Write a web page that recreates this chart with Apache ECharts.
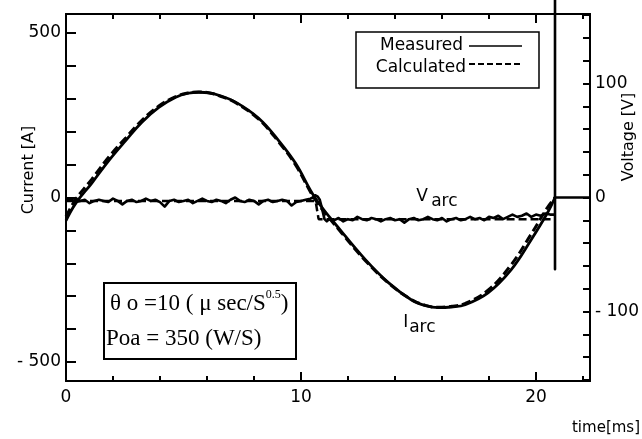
<!DOCTYPE html>
<html>
<head>
<meta charset="utf-8">
<script src="https://cdn.jsdelivr.net/npm/echarts@6/dist/echarts.min.js"></script>
<style>
  html, body { margin: 0; padding: 0; background: #fff; }
  #chart { width: 642px; height: 439px; }
</style>
</head>
<body>
<div id="chart"></div>
<script>
// Arc current [A] over one cycle (time in ms)
const currentTime = [0, 0.42, 1.1, 1.83, 2.55, 3.23, 3.95, 4.67, 5.2, 5.65, 6.1, 6.5, 7.22, 8.2, 9.04, 9.77,
  10.62, 11.72, 12.74, 13.72, 14.69, 15.3, 15.84, 16.4, 16.99, 17.96, 18.94, 19.79, 20.51, 20.81];
const currentMeasured = [-70, -17, 44, 113, 174, 229, 274, 305, 317, 320, 318, 311, 290, 241, 174, 104,
  -3, -103, -189, -259, -311, -329, -335, -333, -326, -290, -220, -129, -44, 0];
const currentCalculated = [-58, -5, 56, 124, 182, 235, 278, 307, 318, 321, 318, 310, 288, 238, 170, 99,
  -8, -107, -192, -260, -310, -328, -334, -331, -322, -282, -205, -112, -28, 0];

// Arc voltage [V], sampled every 0.2 ms
const voltageStep = 0.2;
const voltageFirstHalf = [
  -2, -1, -4, -3, -2, -5, -3, -2, -3, -4,
  -1, -3, -6, -3, -2, -4, -3, -1, -3, -2,
  -4, -8, -3, -2, -4, -3, -2, -5, -3, -1,
  -3, -4, -2, -3, -5, -2, 0, -3, -4, -2,
  -3, -6, -3, -2, -4, -3, -2, -3, -7, -4,
  -3, -2, -1];
const voltageSwitchTime = [10.5, 10.6, 10.7, 10.8, 10.9, 11.0, 11.1];
const voltageSwitch = [0, 2, 1, -2, -10, -19, -21];
const voltageSecondStart = 11.2;
const voltageSecondHalf = [
  -19, -20, -18, -21, -19, -20, -17, -19, -20, -18,
  -19, -21, -19, -18, -20, -19, -22, -19, -18, -20,
  -19, -17, -19, -20, -18, -21, -19, -18, -20, -19,
  -17, -19, -18, -20, -17, -18, -16, -19, -17, -15,
  -17, -16, -14, -17, -15, -16, -14, -15];
// extinction: re-ignition spike and the zero level afterwards
const extinctionTime = 20.81;
const extinctionSpike = [-15, 175, -63, 0];
const endTime = 22.3;

// Calculated voltage levels
const calcVoltageTime = [0, 10.62, 10.75, 20.81];
const calcVoltage = [-3, -3, -19, -19];

// Axis ticks and labels
const timeMinorTicks = [2, 4, 6, 8, 12, 14, 16, 18, 22];
const timeMajorTicks = [0, 10, 20];
const currentTicks = [-500, -400, -300, -200, -100, 0, 100, 200, 300, 400, 500];
const currentLabels = [-500, 0, 500];
const voltageTicks = [-160, -140, -120, -100, -80, -60, -40, -20, 0, 20, 40, 60, 80, 100, 120, 140, 160];
const voltageLabels = [-100, 0, 100];

const INK = '#000';
const SANS = 'DejaVu Sans';
const SERIF = 'Liberation Serif';

const pairs = (xs, ys) => xs.map((x, i) => [x, ys[i]]);
const signed = v => (v < 0 ? '- ' + Math.abs(v) : String(v));

const voltageMeasured = [];
voltageFirstHalf.forEach((v, i) => voltageMeasured.push([+(i * voltageStep).toFixed(2), v]));
voltageSwitchTime.forEach((t, i) => voltageMeasured.push([t, voltageSwitch[i]]));
voltageSecondHalf.forEach((v, i) => voltageMeasured.push([+(voltageSecondStart + i * voltageStep).toFixed(2), v]));
extinctionSpike.forEach(v => voltageMeasured.push([extinctionTime, v]));
voltageMeasured.push([endTime, 0]);

const chart = echarts.init(document.getElementById('chart'), null, { renderer: 'canvas' });

const xBase = {
  type: 'value', min: 0, max: endTime,
  splitLine: { show: false },
  axisLine: { show: true, onZero: false, lineStyle: { color: INK, width: 2 } }
};

chart.setOption({
  animation: false,
  backgroundColor: '#fff',
  grid: { left: 66, right: 48, top: 14, bottom: 58 },
  xAxis: [
    Object.assign({}, xBase, {
      position: 'bottom',
      axisTick: { inside: true, length: 5, customValues: timeMinorTicks, lineStyle: { color: INK, width: 2 } },
      axisLabel: { show: false }
    }),
    Object.assign({}, xBase, {
      position: 'bottom',
      axisTick: { inside: true, length: 9, customValues: timeMajorTicks, lineStyle: { color: INK, width: 2 } },
      axisLabel: { customValues: timeMajorTicks, color: INK, fontFamily: SANS, fontSize: 17, margin: 8 }
    }),
    Object.assign({}, xBase, {
      position: 'top',
      axisTick: { inside: true, length: 5, customValues: timeMinorTicks, lineStyle: { color: INK, width: 2 } },
      axisLabel: { show: false }
    }),
    Object.assign({}, xBase, {
      position: 'top',
      axisTick: { inside: true, length: 9, customValues: [10, 20], lineStyle: { color: INK, width: 2 } },
      axisLabel: { show: false }
    })
  ],
  yAxis: [
    {
      type: 'value', min: -558, max: 558, position: 'left',
      splitLine: { show: false },
      axisLine: { show: true, onZero: false, lineStyle: { color: INK, width: 2 } },
      axisTick: { inside: true, length: 10, customValues: currentTicks, lineStyle: { color: INK, width: 2 } },
      axisLabel: { customValues: currentLabels, formatter: signed, color: INK, fontFamily: SANS, fontSize: 17, margin: 5 }
    },
    {
      type: 'value', min: -161, max: 161, position: 'right',
      splitLine: { show: false },
      axisLine: { show: true, onZero: false, lineStyle: { color: INK, width: 2 } },
      axisTick: { inside: true, length: 7, customValues: voltageTicks, lineStyle: { color: INK, width: 2 } },
      axisLabel: { customValues: voltageLabels, formatter: signed, color: INK, fontFamily: SANS, fontSize: 17, margin: 5 }
    }
  ],
  series: [
    {
      name: 'Calculated', type: 'line', xAxisIndex: 0, yAxisIndex: 1,
      data: pairs(calcVoltageTime, calcVoltage),
      showSymbol: false, symbol: 'none',
      lineStyle: { color: INK, width: 2.5, type: [8, 4] }
    },
    {
      name: 'Calculated', type: 'line', xAxisIndex: 0, yAxisIndex: 0,
      data: pairs(currentTime, currentCalculated),
      showSymbol: false, symbol: 'none', smooth: 0.4,
      lineStyle: { color: INK, width: 3, type: [9, 4] }
    },
    {
      name: 'Measured', type: 'line', xAxisIndex: 0, yAxisIndex: 0,
      data: pairs(currentTime, currentMeasured),
      showSymbol: false, symbol: 'none', smooth: 0.4,
      lineStyle: { color: INK, width: 2.8 }
    },
    {
      name: 'Measured', type: 'line', xAxisIndex: 0, yAxisIndex: 1,
      data: voltageMeasured, clip: false,
      showSymbol: false, symbol: 'none',
      lineStyle: { color: INK, width: 2.6, join: 'round' }
    }
  ]
});

// Labels placed at data positions
const atCurrent = (t, a) => chart.convertToPixel({ xAxisIndex: 0, yAxisIndex: 0 }, [t, a]);
const atVoltage = (t, v) => chart.convertToPixel({ xAxisIndex: 0, yAxisIndex: 1 }, [t, v]);
const vPos = atVoltage(14.9, 1);
const iPos = atCurrent(14.35, -381);

const textStyle = (extra) => Object.assign({ fill: INK, fontFamily: SANS }, extra);

chart.setOption({
  graphic: [
    // series legend
    { type: 'rect', shape: { x: 356, y: 32, width: 183, height: 56 }, style: { fill: '#fff', stroke: INK, lineWidth: 1.5 } },
    { type: 'text', x: 463, y: 46, style: textStyle({ text: 'Measured', fontSize: 17, align: 'right', verticalAlign: 'middle' }) },
    { type: 'text', x: 466, y: 68, style: textStyle({ text: 'Calculated', fontSize: 17, align: 'right', verticalAlign: 'middle' }) },
    { type: 'line', shape: { x1: 469, y1: 46, x2: 522, y2: 46 }, style: { stroke: INK, lineWidth: 1.5 } },
    { type: 'line', shape: { x1: 469, y1: 64, x2: 522, y2: 64 }, style: { stroke: INK, lineWidth: 2, lineDash: [6, 3] } },

    // parameter box
    { type: 'rect', shape: { x: 104, y: 283, width: 192, height: 76 }, style: { fill: '#fff', stroke: INK, lineWidth: 2 } },
    {
      type: 'text', x: 110, y: 302,
      style: {
        text: '{m|θ o =10 ( μ sec/S}{s|0.5}{m|)}',
        verticalAlign: 'middle',
        rich: {
          m: { fontFamily: SERIF, fontSize: 23, fill: INK, lineHeight: 26, verticalAlign: 'bottom' },
          s: { fontFamily: SERIF, fontSize: 12, fill: INK, lineHeight: 26, verticalAlign: 'top' }
        }
      }
    },
    { type: 'text', x: 106, y: 339, style: { text: 'Poa = 350 (W/S)', fontFamily: SERIF, fontSize: 23, fill: INK, verticalAlign: 'middle' } },

    // trace names
    { type: 'text', x: vPos[0], y: vPos[1], style: textStyle({ text: 'V', fontSize: 17, verticalAlign: 'middle' }) },
    { type: 'text', x: vPos[0] + 15, y: vPos[1] + 5, style: textStyle({ text: 'arc', fontSize: 17, verticalAlign: 'middle' }) },
    { type: 'text', x: iPos[0], y: iPos[1], style: textStyle({ text: 'I', fontSize: 17, verticalAlign: 'middle' }) },
    { type: 'text', x: iPos[0] + 6, y: iPos[1] + 5, style: textStyle({ text: 'arc', fontSize: 17, verticalAlign: 'middle' }) },

    // axis titles
    { type: 'text', x: 29, y: 170, rotation: Math.PI / 2, style: textStyle({ text: 'Current [A]', fontSize: 16, align: 'center', verticalAlign: 'middle' }) },
    { type: 'text', x: 629, y: 137, rotation: Math.PI / 2, style: textStyle({ text: 'Voltage [V]', fontSize: 16, align: 'center', verticalAlign: 'middle' }) },
    { type: 'text', x: 606, y: 428, style: textStyle({ text: 'time[ms]', fontSize: 15, align: 'center', verticalAlign: 'middle' }) }
  ]
});
</script>
</body>
</html>
